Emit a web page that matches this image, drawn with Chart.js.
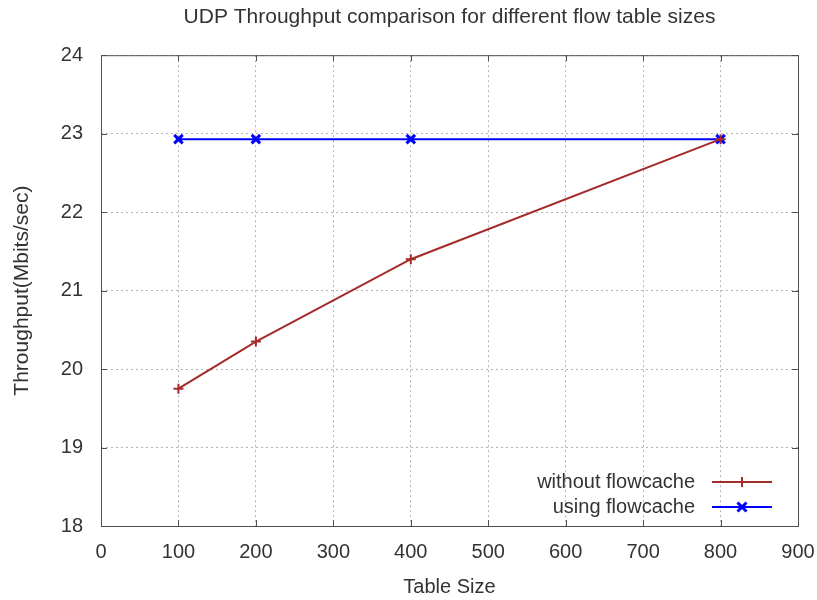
<!DOCTYPE html>
<html>
<head>
<meta charset="utf-8">
<script src="https://cdn.jsdelivr.net/npm/chart.js@4/dist/chart.umd.min.js"></script>
<style>
    html, body { margin: 0; padding: 0; background: #fff; }
</style>
</head>
<body>
<canvas id="grafico" width="817" height="600"></canvas>
<script>
// dados
const tamanhos = [100, 200, 400, 800];
const semFlowcache = [19.75, 20.35, 21.40, 22.93];
const comFlowcache = [22.93, 22.93, 22.93, 22.93];
const rotulos = ['without flowcache', 'using flowcache'];
const titulo = 'UDP Throughput comparison for different flow table sizes';
const tituloX = 'Table Size';
const tituloY = 'Throughput(Mbits/sec)';

const FONTE = "'Liberation Sans', Arial, sans-serif";
const TAM = 20;
const COR_TEXTO = '#333333';
const COR_EIXO = '#505050';

function pontos(valores) {
    return tamanhos.map((t, i) => ({ x: t, y: valores[i] }));
}

function desenharMarcador(ctx, estilo, x, y, r) {
    ctx.beginPath();
    if (estilo === 'cross') {
        ctx.moveTo(x - r, y); ctx.lineTo(x + r, y);
        ctx.moveTo(x, y - r); ctx.lineTo(x, y + r);
    } else {
        const d = r * 0.75;
        ctx.moveTo(x - d, y - d); ctx.lineTo(x + d, y + d);
        ctx.moveTo(x + d, y - d); ctx.lineTo(x - d, y + d);
    }
    ctx.stroke();
}

// moldura estilo gnuplot: borda, ticks para dentro (espelhados) e legenda interna
const molduraGnuplot = {
    id: 'molduraGnuplot',
    afterDatasetsDraw(chart) {
        const { ctx, chartArea: a, scales } = chart;
        const tl = 6;
        ctx.save();
        ctx.strokeStyle = COR_EIXO;
        ctx.lineWidth = 1;
        ctx.strokeRect(a.left + 0.5, a.top + 0.5, a.right - a.left, a.bottom - a.top);
        ctx.beginPath();
        scales.x.ticks.forEach(t => {
            const px = Math.round(scales.x.getPixelForValue(t.value)) + 0.5;
            ctx.moveTo(px, a.bottom); ctx.lineTo(px, a.bottom - tl);
            ctx.moveTo(px, a.top); ctx.lineTo(px, a.top + tl);
        });
        scales.y.ticks.forEach(t => {
            const py = Math.round(scales.y.getPixelForValue(t.value)) + 0.5;
            ctx.moveTo(a.left, py); ctx.lineTo(a.left + tl, py);
            ctx.moveTo(a.right, py); ctx.lineTo(a.right - tl, py);
        });
        ctx.stroke();

        // legenda
        ctx.font = TAM + 'px ' + FONTE;
        ctx.textAlign = 'right';
        ctx.textBaseline = 'middle';
        chart.data.datasets.forEach((ds, i) => {
            const y = a.bottom - 44 + i * 25;
            const xFim = a.right - 26;
            const xIni = xFim - 60;
            ctx.fillStyle = COR_TEXTO;
            ctx.fillText(ds.label, xIni - 17, y);
            ctx.strokeStyle = ds.borderColor;
            ctx.lineWidth = 2;
            ctx.beginPath();
            ctx.moveTo(xIni, y); ctx.lineTo(xFim, y);
            ctx.stroke();
            ctx.lineWidth = ds.pointBorderWidth;
            desenharMarcador(ctx, ds.pointStyle, (xIni + xFim) / 2, y, ds.pointRadius);
        });
        ctx.restore();
    }
};

const config = {
    type: 'line',
    data: {
        datasets: [{
            label: rotulos[0],
            data: pontos(semFlowcache),
            borderColor: '#a52a2a',
            backgroundColor: '#a52a2a',
            borderWidth: 2,
            pointStyle: 'cross',
            pointRadius: 5,
            pointBorderWidth: 2,
            pointBorderColor: '#a52a2a',
            tension: 0
        }, {
            label: rotulos[1],
            data: pontos(comFlowcache),
            borderColor: '#0000ff',
            backgroundColor: '#0000ff',
            borderWidth: 2,
            pointStyle: 'crossRot',
            pointRadius: 6,
            pointBorderWidth: 3,
            pointBorderColor: '#0000ff',
            tension: 0
        }]
    },
    options: {
        responsive: false,
        animation: false,
        devicePixelRatio: 1,
        layout: { padding: { left: 0, right: 19, top: 0, bottom: 0 } },
        plugins: {
            legend: { display: false },
            tooltip: { enabled: false },
            title: {
                display: true,
                fullSize: false,
                text: titulo,
                color: COR_TEXTO,
                font: { family: FONTE, size: 21, weight: 'normal' },
                padding: { top: 5, bottom: 25 }
            }
        },
        scales: {
            x: {
                type: 'linear',
                min: 0,
                max: 900,
                ticks: { stepSize: 100, color: COR_TEXTO, padding: 14, font: { family: FONTE, size: TAM } },
                grid: { color: '#b4b4b4', lineWidth: 1, drawTicks: false },
                border: { display: false, dash: [2, 3] },
                title: { display: true, text: tituloX, color: COR_TEXTO, font: { family: FONTE, size: TAM }, padding: { top: 0, bottom: 1 } },
                afterFit: s => { s.height = 74; s.paddingLeft = 0; s.paddingRight = 0; }
            },
            y: {
                min: 18,
                max: 24,
                ticks: { stepSize: 1, color: COR_TEXTO, padding: 18, font: { family: FONTE, size: TAM } },
                grid: { color: '#b4b4b4', lineWidth: 1, drawTicks: false },
                border: { display: false, dash: [2, 3] },
                title: { display: true, text: tituloY, color: COR_TEXTO, font: { family: FONTE, size: 21 }, padding: { top: 10, bottom: 0 } },
                afterFit: s => { s.width = 101; s.paddingTop = 0; s.paddingBottom = 0; }
            }
        }
    },
    plugins: [molduraGnuplot]
};

new Chart(document.getElementById('grafico').getContext('2d'), config);
</script>
</body>
</html>
